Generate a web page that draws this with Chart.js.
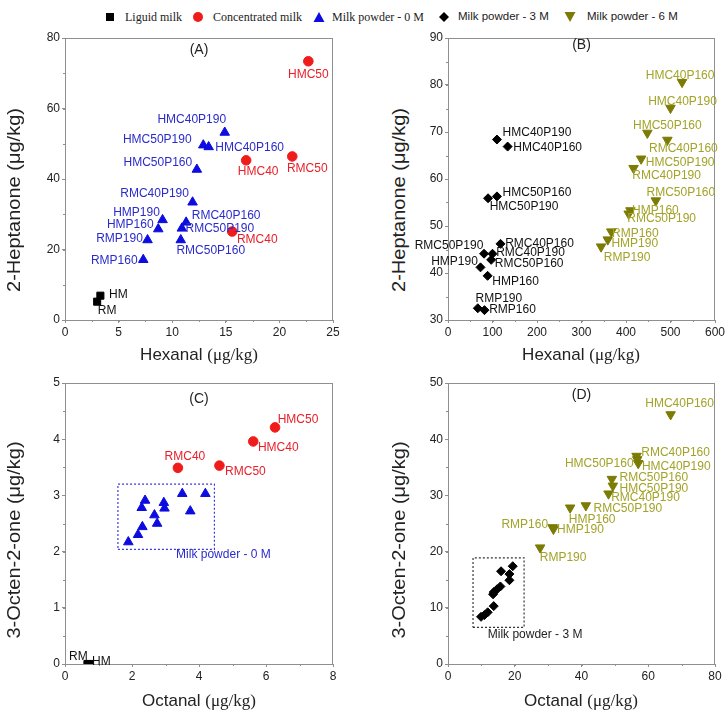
<!DOCTYPE html>
<html><head><meta charset="utf-8">
<script src="https://cdn.jsdelivr.net/npm/chart.js@4"></script>
<style>
body{margin:0;background:#fff;width:728px;height:716px;position:relative;overflow:hidden;font-family:"Liberation Sans",Arial,sans-serif;color:#222}
canvas{position:absolute}
.t{position:absolute;white-space:nowrap;line-height:1}
.xt{font-size:17px;transform:translate(-50%,-50%)}
.yt{font-size:20px;transform:translate(-50%,-50%) rotate(-90deg) scale(1,0.9)}
.s{font-family:"Liberation Serif","Times New Roman",serif}
.lg{position:absolute;top:17px;transform:translateY(-50%);white-space:nowrap;line-height:1}
.lm{position:absolute;top:17px;transform:translate(-50%,-50%)}
</style></head><body>

<!-- legend -->
<svg class="lm" style="left:110px" width="10" height="10"><rect x="1" y="1" width="8" height="8" fill="#000"/></svg>
<div class="lg s" style="left:125px;font-size:12px">Liguid milk</div>
<svg class="lm" style="left:198px" width="12" height="12"><circle cx="6" cy="6" r="5" fill="#f01c1c"/></svg>
<div class="lg s" style="left:213px;font-size:12px">Concentrated milk</div>
<svg class="lm" style="left:319px" width="12" height="12"><polygon points="6,1 11.5,11 0.5,11" fill="#0c0ce0"/></svg>
<div class="lg s" style="left:332px;font-size:12px">Milk powder - 0 M</div>
<svg class="lm" style="left:444px" width="12" height="12"><polygon points="6,1 11,6 6,11 1,6" fill="#000"/></svg>
<div class="lg" style="left:458px;font-size:11.5px">Milk powder - 3 M</div>
<svg class="lm" style="left:570px" width="12" height="12"><polygon points="0.5,1 11.5,1 6,11" fill="#7b7b05"/></svg>
<div class="lg" style="left:587px;font-size:11.5px">Milk powder - 6 M</div>

<canvas id="cA" width="350" height="350" style="left:0;top:24px"></canvas>
<canvas id="cB" width="318" height="350" style="left:410px;top:24px"></canvas>
<canvas id="cC" width="350" height="346" style="left:0;top:370px"></canvas>
<canvas id="cD" width="318" height="346" style="left:410px;top:370px"></canvas>

<div class="t xt" style="left:199px;top:354px">Hexanal <span class="s">(μg/kg)</span></div>
<div class="t xt" style="left:581px;top:354px">Hexanal <span class="s">(μg/kg)</span></div>
<div class="t xt" style="left:199px;top:700px">Octanal <span class="s">(μg/kg)</span></div>
<div class="t xt" style="left:581px;top:700px">Octanal <span class="s">(μg/kg)</span></div>
<div class="t yt" style="left:14px;top:200px">2-Heptanone (μg/kg)</div>
<div class="t yt" style="left:399px;top:200px">2-Heptanone (μg/kg)</div>
<div class="t yt" style="left:14px;top:540px">3-Octen-2-one (μg/kg)</div>
<div class="t yt" style="left:399px;top:540px">3-Octen-2-one (μg/kg)</div>

<script>
// ---------- Panel A : Hexanal vs 2-Heptanone ----------
const aLiquidNames = ['HM','RM'];
const aLiquidX = [3.3, 3.0];
const aLiquidY = [6.9, 5.2];
const aConcNames = ['HMC50','HMC40','RMC50','RMC40'];
const aConcX = [22.7, 16.9, 21.2, 15.6];
const aConcY = [73.4, 45.3, 46.4, 25.1];
const aPowderNames = ['HMC40P190','HMC50P190','HMC40P160','HMC50P160','RMC40P190','RMC40P160','HMP190','HMP160','RMC50P190','RMC50P160','RMP190','RMP160'];
const aPowderX = [14.9, 12.9, 13.4, 12.3, 11.9, 11.3, 9.1, 8.7, 10.9, 10.8, 7.7, 7.3];
const aPowderY = [53.2, 49.6, 49.1, 42.7, 33.4, 27.7, 28.4, 25.8, 26.0, 22.7, 22.7, 17.1];

// ---------- Panel B : Hexanal vs 2-Heptanone ----------
const bPowder3Names = ['HMC40P190','HMC40P160','HMC50P160','HMC50P190','RMC40P160','RMC50P190','RMC40P190','RMC50P160','HMP190','HMP160','RMP190','RMP160'];
const bPowder3X = [110, 134, 110, 90, 118, 81, 100, 97, 73, 89, 67, 82];
const bPowder3Y = [68.4, 66.9, 56.3, 55.9, 46.2, 44.1, 44.1, 42.8, 41.2, 39.4, 32.5, 32.1];
const bPowder6Names = ['HMC40P160','HMC40P190','HMC50P160','RMC40P160','HMC50P190','RMC40P190','RMC50P160','HMP160','RMC50P190','RMP160','HMP190','RMP190'];
const bPowder6X = [526, 500, 448, 493, 434, 417, 467, 410, 406, 367, 359, 344];
const bPowder6Y = [80.6, 75.1, 69.8, 68.3, 64.3, 62.3, 55.4, 53.3, 52.6, 48.8, 47.1, 45.6];

// ---------- Panel C : Octanal vs 3-Octen-2-one ----------
const cLiquidNames = ['RM','HM'];
const cLiquidX = [0.67, 0.73];
const cLiquidY = [0, 0];
const cConcNames = ['HMC50','HMC40','RMC50','RMC40'];
const cConcX = [6.27, 5.62, 4.61, 3.37];
const cConcY = [4.21, 3.96, 3.53, 3.49];
const cPowderX = [3.50, 4.19, 2.39, 2.29, 2.95, 2.97, 3.74, 2.67, 2.75, 2.31, 2.18, 1.89];
const cPowderY = [3.03, 3.03, 2.91, 2.78, 2.87, 2.77, 2.72, 2.65, 2.50, 2.44, 2.30, 2.17];
const cBoxX = [1.58, 4.46, 4.46, 1.58, 1.58];
const cBoxY = [2.04, 2.04, 3.20, 3.20, 2.04];

// ---------- Panel D : Octanal vs 3-Octen-2-one ----------
const dPowder6Names = ['HMC40P160','RMC40P160','HMC50P160','HMC40P190','RMC50P160','HMC50P190','RMC40P190','RMC50P190','HMP160','RMP160','HMP190','RMP190'];
const dPowder6X = [66.7, 56.5, 56.7, 57.0, 49.1, 49.4, 48.1, 41.3, 36.6, 31.4, 31.6, 27.6];
const dPowder6Y = [44.4, 37.0, 36.4, 35.7, 32.9, 31.7, 30.3, 28.2, 27.8, 24.3, 24.0, 20.7];
const dPowder3X = [19.4, 15.9, 18.4, 18.4, 15.7, 14.7, 13.7, 13.5, 13.7, 11.9, 10.9, 9.9];
const dPowder3Y = [17.4, 16.5, 16.0, 14.9, 13.8, 13.3, 12.8, 12.4, 10.3, 9.2, 8.7, 8.4];
const dBoxX = [7.5, 22.8, 22.8, 7.5, 7.5];
const dBoxY = [6.5, 6.5, 18.9, 18.9, 6.5];

// label offsets in pixels (style only)
const aLiquidOff = [[18,-1],[10,9]];
const aConcOff = [[0,13],[12,11],[15,12],[25,8]];
const aPowderOff = [[-33,-13],[-46,-5],[41,1],[-39,-7],[-38,-9],[40,-7],[-26,-7],[-28,-4],[38,0],[30,11],[-28,-1],[-29,1]];
const bPowder3Off = [[40,-7],[40,1],[40,-4],[36,8],[39,0],[-35,-8],[38,-1],[38,4],[-26,-6],[28,6],[21,-10],[28,0]];
const bPowder6Off = [[-2,-6],[12,-6],[20,-7],[16,9],[39,4],[33,7],[25,-8],[25,0],[33,5],[24,2],[27,4],[26,11]];
const cLiquidOff = [[-9,-7],[12,-2]];
const cConcOff = [[23,-8],[25,6],[26,6],[7,-11]];
const dPowder6Off = [[9,-11],[39,-3],[-38,4],[38,3],[42,-1],[41,3],[37,4],[42,3],[22,12],[-28,-3],[27,1],[23,10]];

const RED='#f01c1c', BLUE='#0c0ce0', OLIVE='#7b7b05', BLACK='#000000';
const RED_T='#e8202a', BLUE_T='#2b2bcc', OLIVE_T='#a3a32a', BLACK_T='#111111';
const FONT='"Liberation Sans", Arial, sans-serif';

const pts = (xs, ys) => xs.map((x,i)=>({x, y: ys[i]}));

function markerSet(xs, ys, style, color, radius, extra){
  return Object.assign({data: pts(xs,ys), pointStyle: style, pointRadius: radius, pointHoverRadius: radius,
    backgroundColor: color, borderColor: color, pointBorderWidth: 1, showLine:false, clip: 0}, extra||{});
}
function boxSet(xs, ys, color){
  return {data: pts(xs,ys), showLine:true, pointRadius:0, borderColor: color, borderWidth:1.2, borderDash:[2,2], fill:false, tension:0, clip:false};
}

const framePlugin = {
  id:'frame',
  beforeDatasetsDraw(chart, args, opts){
    const {ctx, chartArea:a} = chart; const x=chart.scales.x, y=chart.scales.y;
    ctx.save();
    ctx.strokeStyle='#8f8f8f'; ctx.lineWidth=1;
    ctx.strokeRect(Math.round(a.left)+0.5, Math.round(a.top)+0.5, Math.round(a.right-a.left)-1, Math.round(a.bottom-a.top));
    ctx.beginPath();
    for(let v=x.min; v<=x.max+1e-9; v+=opts.xMinor){ const p=Math.round(x.getPixelForValue(v))+0.5; ctx.moveTo(p,a.bottom); ctx.lineTo(p,a.bottom+2); }
    for(let v=y.min; v<=y.max+1e-9; v+=opts.yMinor){ const p=Math.round(y.getPixelForValue(v))+0.5; ctx.moveTo(a.left,p); ctx.lineTo(a.left-2,p); }
    ctx.stroke();
    ctx.restore();
  }
};
const labelPlugin = {
  id:'ptlabels',
  afterDatasetsDraw(chart, args, opts){
    const ctx=chart.ctx, a=chart.chartArea;
    ctx.save();
    ctx.textAlign='center'; ctx.textBaseline='middle';
    chart.data.datasets.forEach((ds,i)=>{
      if(!ds.names) return;
      const meta=chart.getDatasetMeta(i);
      ctx.font='12px '+FONT; ctx.fillStyle=ds.labelColor;
      meta.data.forEach((el,j)=>{ const o=ds.offsets[j]; ctx.fillText(ds.names[j], el.x+o[0], el.y+o[1]); });
    });
    ctx.font='14px '+FONT; ctx.fillStyle='#222';
    ctx.fillText(opts.letter, (a.left+a.right)/2, a.top+opts.letterDy);
    (opts.notes||[]).forEach(n=>{
      ctx.font='12px '+FONT; ctx.fillStyle=n.color;
      ctx.fillText(n.text, chart.scales.x.getPixelForValue(n.x), chart.scales.y.getPixelForValue(n.y));
    });
    ctx.restore();
  }
};

function axis(min, max, step, fitProp, fitVal){
  return {type:'linear', min, max,
    ticks:{stepSize:step, color:'#222', font:{size:12, family:FONT}, padding:2, maxRotation:0, autoSkip:false},
    grid:{drawOnChartArea:false, drawTicks:true, tickLength:3, tickColor:'#8f8f8f'},
    border:{color:'#8f8f8f'},
    afterFit(s){ s[fitProp]=fitVal; }};
}

function make(id, p){
  return new Chart(document.getElementById(id), {
    type:'scatter',
    data:{datasets:p.datasets},
    options:{
      responsive:false, animation:false, events:[],
      layout:{padding:{left:0, top:p.padTop, right:p.padRight, bottom:0}},
      plugins:{legend:{display:false}, tooltip:{enabled:false},
        frame:{xMinor:p.xMinor, yMinor:p.yMinor},
        ptlabels:{letter:p.letter, letterDy:p.letterDy, notes:p.notes}},
      scales:{
        x: axis(p.x[0], p.x[1], p.x[2], 'height', p.xH),
        y: axis(p.y[0], p.y[1], p.y[2], 'width', p.yW)
      }
    },
    plugins:[framePlugin, labelPlugin]
  });
}

make('cA', {
  padTop:14, padRight:17, xH:54, yW:65,
  x:[0,25,5], y:[0,80,20], xMinor:2.5, yMinor:10, letter:'(A)', letterDy:12,
  datasets:[
    markerSet(aLiquidX, aLiquidY, 'rect', BLACK, 5, {names:aLiquidNames, offsets:aLiquidOff, labelColor:BLACK_T}),
    markerSet(aConcX, aConcY, 'circle', RED, 4.8, {names:aConcNames, offsets:aConcOff, labelColor:RED_T}),
    markerSet(aPowderX, aPowderY, 'triangle', BLUE, 5.5, {names:aPowderNames, offsets:aPowderOff, labelColor:BLUE_T})
  ]
});
make('cB', {
  padTop:14, padRight:13, xH:54, yW:38,
  x:[0,600,100], y:[30,90,10], xMinor:50, yMinor:5, letter:'(B)', letterDy:7,
  datasets:[
    markerSet(bPowder3X, bPowder3Y, 'rectRot', BLACK, 4.5, {names:bPowder3Names, offsets:bPowder3Off, labelColor:BLACK_T}),
    markerSet(bPowder6X, bPowder6Y, 'triangle', OLIVE, 5.5, {rotation:180, names:bPowder6Names, offsets:bPowder6Off, labelColor:OLIVE_T})
  ]
});
make('cC', {
  padTop:13, padRight:17, xH:52, yW:65,
  x:[0,8,2], y:[0,5,1], xMinor:1, yMinor:0.5, letter:'(C)', letterDy:16,
  notes:[{text:'Milk powder - 0 M', x:4.73, y:1.95, color:BLUE_T}],
  datasets:[
    boxSet(cBoxX, cBoxY, '#3a3ad8'),
    markerSet(cLiquidX, cLiquidY, 'rect', BLACK, 5, {names:cLiquidNames, offsets:cLiquidOff, labelColor:BLACK_T}),
    markerSet(cConcX, cConcY, 'circle', RED, 4.8, {names:cConcNames, offsets:cConcOff, labelColor:RED_T}),
    markerSet(cPowderX, cPowderY, 'triangle', BLUE, 5.5)
  ]
});
make('cD', {
  padTop:13, padRight:13, xH:52, yW:38,
  x:[0,80,20], y:[0,50,10], xMinor:10, yMinor:5, letter:'(D)', letterDy:12,
  notes:[{text:'Milk powder - 3 M', x:26.1, y:5.2, color:'#222'}],
  datasets:[
    boxSet(dBoxX, dBoxY, '#333'),
    markerSet(dPowder3X, dPowder3Y, 'rectRot', BLACK, 4.5),
    markerSet(dPowder6X, dPowder6Y, 'triangle', OLIVE, 5.5, {rotation:180, names:dPowder6Names, offsets:dPowder6Off, labelColor:OLIVE_T})
  ]
});
</script>
</body></html>
